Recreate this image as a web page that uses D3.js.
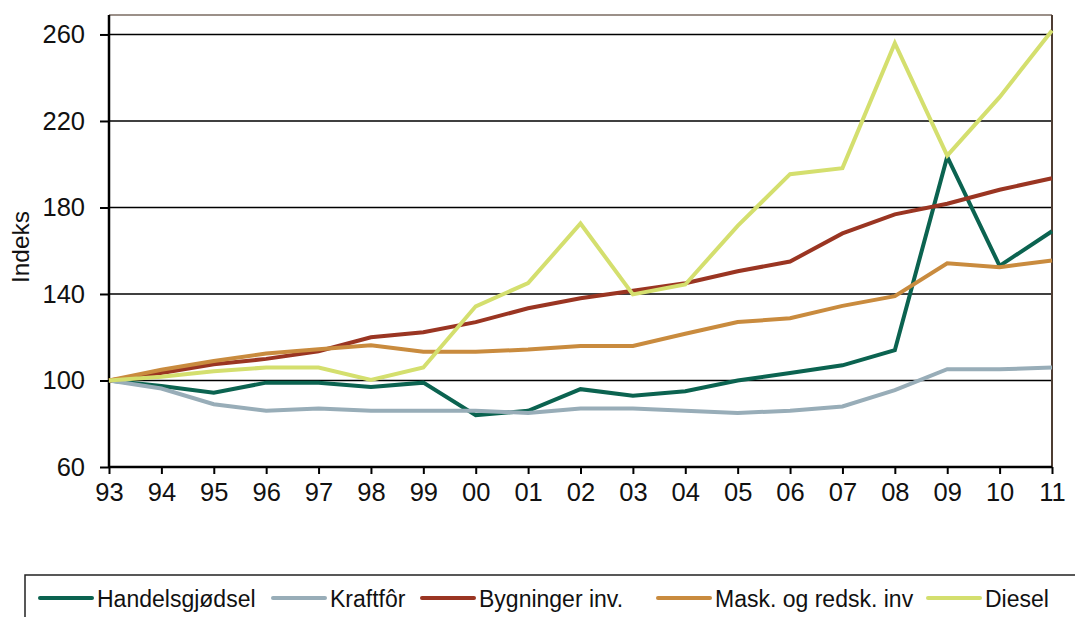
<!DOCTYPE html>
<html>
<head>
<meta charset="utf-8">
<script src="https://cdn.jsdelivr.net/npm/d3@7"></script>
<style>
  body { margin: 0; background: #fff; }
  svg { display: block; font-family: "Liberation Sans", Arial, sans-serif; }
</style>
</head>
<body>
<div id="chart"></div>
<script>
// Data (index, 1993 = 100)
const years = ["93", "94", "95", "96", "97", "98", "99", "00", "01", "02",
               "03", "04", "05", "06", "07", "08", "09", "10", "11"];
const handelsgjodsel = [100, 97.5, 94.3, 99, 99, 97, 99, 84, 86, 96, 93, 95, 100, 103.5, 107, 114, 203.5, 153, 169];
const kraftfor       = [100, 96.3, 89, 86, 87, 86, 86, 86, 85, 87, 87, 86, 85, 86, 88, 95.5, 105.2, 105.2, 106];
const bygninger      = [100, 103.5, 107.5, 110, 113.5, 120, 122.3, 127, 133.4, 138, 141.5, 145, 150.5, 155, 168, 176.8, 181.7, 188.2, 193.5];
const maskRedsk      = [100, 105, 109, 112.5, 114.4, 116.3, 113.3, 113.3, 114.3, 116, 116, 121.6, 127, 128.8, 134.5, 139, 154.2, 152.4, 155.5];
const diesel         = [100, 101.7, 104.3, 106, 106, 100.2, 106, 134.3, 145, 172.6, 139.8, 144.4, 171.5, 195.4, 198.2, 256, 204, 231, 261.8];
const yTicks = [60, 100, 140, 180, 220, 260];

const seriesNames = ["Handelsgjødsel", "Kraftfôr", "Bygninger inv.", "Mask. og redsk. inv", "Diesel"];
const seriesValues = [handelsgjodsel, kraftfor, bygninger, maskRedsk, diesel];
const seriesColors = ["#0b6350", "#98adb8", "#9a3522", "#c98b3e", "#d4df6e"];

const W = 1075, H = 617;
const plot = { left: 109, right: 1052, top: 15, bottom: 467 };

const svg = d3.select("#chart").append("svg")
    .attr("width", W)
    .attr("height", H);

const x = d3.scalePoint()
    .domain(years)
    .range([plot.left, plot.right]);

const y = d3.scaleLinear()
    .domain([60, 269])
    .range([plot.bottom, plot.top]);

// gridlines
svg.append("g")
    .selectAll("line")
    .data(yTicks.filter(d => d > 60))
    .enter().append("line")
    .attr("x1", plot.left)
    .attr("x2", plot.right)
    .attr("y1", d => y(d))
    .attr("y2", d => y(d))
    .attr("stroke", "#000")
    .attr("stroke-width", 1.6);

// top and right frame
svg.append("line")
    .attr("x1", plot.left).attr("x2", plot.right)
    .attr("y1", plot.top).attr("y2", plot.top)
    .attr("stroke", "#7a6b62").attr("stroke-width", 1.5);
svg.append("line")
    .attr("x1", plot.right).attr("x2", plot.right)
    .attr("y1", plot.top).attr("y2", plot.bottom)
    .attr("stroke", "#4e3d33").attr("stroke-width", 2);

// axes
const yAxis = svg.append("g")
    .attr("transform", `translate(${plot.left},0)`)
    .call(d3.axisLeft(y).tickValues(yTicks).tickSize(9).tickPadding(15));

const xAxis = svg.append("g")
    .attr("transform", `translate(0,${plot.bottom})`)
    .call(d3.axisBottom(x).tickSize(7).tickPadding(9));

[yAxis, xAxis].forEach(ax => {
    ax.select(".domain").attr("stroke", "#000").attr("stroke-width", 2.5);
    ax.selectAll(".tick line").attr("stroke", "#000").attr("stroke-width", 2);
    ax.selectAll(".tick text")
        .attr("fill", "#111")
        .style("font-size", "25.5px")
        .style("font-family", "'Liberation Sans', Arial, sans-serif");
});
// y axis domain only spans ticks 60..top
yAxis.select(".domain").attr("d", `M0,${plot.bottom}V${plot.top}`);
xAxis.select(".domain").attr("d", `M${plot.left},0H${plot.right}`);

svg.append("text")
    .attr("transform", "translate(29,247) rotate(-90)")
    .attr("text-anchor", "middle")
    .style("font-size", "24.5px")
    .attr("fill", "#111")
    .text("Indeks");

// lines
const line = d3.line()
    .x((d, i) => x(years[i]))
    .y(d => y(d));

svg.append("g")
    .selectAll("path")
    .data(seriesValues)
    .enter().append("path")
    .attr("d", d => line(d))
    .attr("fill", "none")
    .attr("stroke", (d, i) => seriesColors[i])
    .attr("stroke-width", 4)
    .attr("stroke-linejoin", "miter");

// legend
svg.append("rect")
    .attr("x", 25)
    .attr("y", 575)
    .attr("width", 1070)
    .attr("height", 60)
    .attr("fill", "#fff")
    .attr("stroke", "#222")
    .attr("stroke-width", 1.5);

const legendX = [40, 273, 422, 658, 928];
const legend = svg.append("g")
    .selectAll("g")
    .data(seriesNames)
    .enter().append("g")
    .attr("transform", (d, i) => `translate(${legendX[i]},598)`);

legend.append("line")
    .attr("x1", 0).attr("x2", 52)
    .attr("y1", 0).attr("y2", 0)
    .attr("stroke", (d, i) => seriesColors[i])
    .attr("stroke-width", 4)
    .attr("stroke-linecap", "round");

legend.append("text")
    .attr("x", 57)
    .attr("y", 8.5)
    .style("font-size", "23px")
    .attr("fill", "#111")
    .text(d => d);
</script>
</body>
</html>
